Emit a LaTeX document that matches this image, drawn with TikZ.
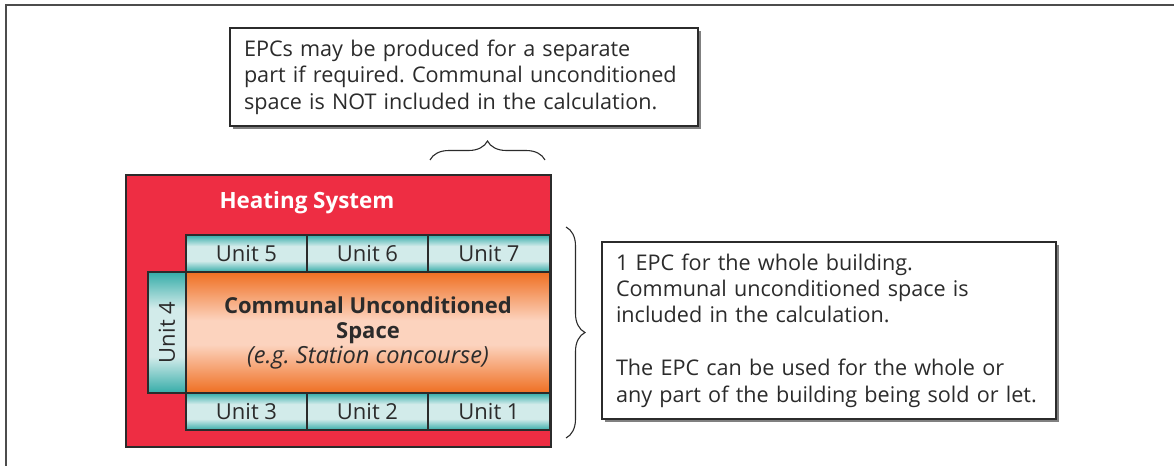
\documentclass[tikz,border=0pt]{standalone}
\usepackage{fontspec}
\setmainfont{Open Sans}
\usepackage{xcolor}
\usepackage{tikz}
\usetikzlibrary{positioning,shadows}
\usetikzlibrary{decorations.pathreplacing}
\definecolor{heatred}{HTML}{EE2D43}
\definecolor{tealdark}{HTML}{35ACA8}
\definecolor{teallight}{HTML}{D2EBEA}
\definecolor{commorange}{HTML}{EF6F22}
\definecolor{commpeach}{HTML}{FCD3BE}
\definecolor{inkgray}{HTML}{2B2B2B}
\pgfdeclareverticalshading{unitshade}{100bp}{color(0bp)=(tealdark); color(25bp)=(tealdark); color(40bp)=(teallight); color(60bp)=(teallight); color(75bp)=(tealdark); color(100bp)=(tealdark)}
\pgfdeclareverticalshading{commshade}{100bp}{color(0bp)=(commorange); color(25bp)=(commorange); color(45bp)=(commpeach); color(55bp)=(commpeach); color(75bp)=(commorange); color(100bp)=(commorange)}
\newcommand{\unitfont}[0]{\fontsize{11}{13}\selectfont}
\newcommand{\notefont}[0]{\fontsize{10.8}{13.2}\selectfont}
\frenchspacing

\begin{document}
\begin{tikzpicture}[x=0.5pt, y=-0.5pt,
    unitbox/.style={draw=inkgray, line width=0.7pt, shading=unitshade,
        inner sep=0pt, outer sep=0pt, minimum width=60.5pt, minimum height=18.5pt,
        font=\unitfont, text=inkgray},
    notebox/.style={draw=inkgray, line width=0.6pt, fill=white, align=left,
        inner xsep=7pt, inner ysep=0pt, outer sep=0pt, font=\notefont, text=inkgray,
        drop shadow={shadow xshift=1.6pt, shadow yshift=-1.6pt, fill=black!50, opacity=1}},
    bracestyle/.style={decorate, decoration={brace, amplitude=9.5pt}, line width=0.55pt, draw=inkgray}]
    \useasboundingbox (0,0) rectangle (1174,466);
    \draw[line width=0.8pt, draw=black!70] (6,466) -- (6,5) -- (1174,5);

    % building
    \node[draw=inkgray, line width=0.8pt, fill=heatred, anchor=north west,
        minimum width=212.5pt, minimum height=136pt, inner sep=0pt] (heat) at (125,174) {};
    \node[text=white, font=\fontsize{11.2}{13}\selectfont\bfseries] (heatlabel) at (307,203) {Heating System};

    \node[unitbox, anchor=north west] (u5) at (186,235) {Unit 5};
    \node[unitbox, right=0pt of u5] (u6) {Unit 6};
    \node[unitbox, right=0pt of u6, minimum width=61pt] (u7) {Unit 7};

    \node[draw=inkgray, line width=0.7pt, shading=commshade, anchor=north west,
        minimum width=182pt, minimum height=60.5pt, inner sep=0pt, outer sep=0pt,
        align=center, text=inkgray, font=\fontsize{11}{12.5}\selectfont] (comm) at (u5.south west)
        {{\bfseries Communal Unconditioned}\\{\bfseries Space}\\{\fontsize{11.8}{12.5}\selectfont\itshape (e.g. Station concourse)}};

    \node[unitbox, rotate=90, anchor=south, minimum width=60.5pt, minimum height=19pt] (u4) at (comm.west) {Unit 4};

    \node[unitbox, anchor=north west] (u3) at (comm.south west) {Unit 3};
    \node[unitbox, right=0pt of u3] (u2) {Unit 2};
    \node[unitbox, right=0pt of u2, minimum width=61pt] (u1) {Unit 1};

    % notes
    \node[notebox, anchor=north west, text width=220pt, minimum height=49pt] (partnote) at (230,28)
        {EPCs may be produced for a separate\\part if required. Communal unconditioned\\space is NOT included in the calculation.};
    \node[notebox, anchor=north west, text width=213pt, minimum height=88.5pt] (wholenote) at (602,242)
        {1 EPC for the whole building.\\Communal unconditioned space is\\included in the calculation.\\[13.2pt]The EPC can be used for the whole or\\any part of the building being sold or let.};

    % braces
    \coordinate (partleft) at (430,160);
    \coordinate (partright) at (545,160);
    \draw[bracestyle] (partleft) -- (partright);
    \coordinate (wholetop) at (566,227);
    \coordinate (wholebottom) at (566,438);
    \draw[bracestyle] (wholetop) -- (wholebottom);
\end{tikzpicture}
\end{document}
